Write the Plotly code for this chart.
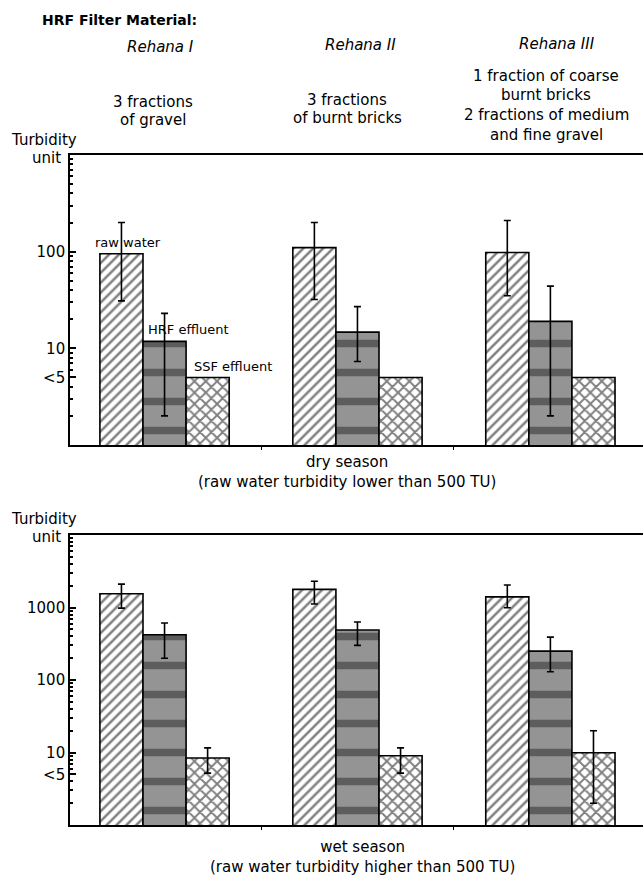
import plotly.graph_objects as go

W, H = 643, 876

# ---------------- data ----------------
filters = ["Rehana I", "Rehana II", "Rehana III"]
series = ["raw water", "HRF effluent", "SSF effluent"]

# dry season (turbidity units)
dry_raw = [95, 110, 98]
dry_raw_hi = [200, 200, 210]
dry_raw_lo = [31, 32, 35]
dry_hrf = [11.8, 14.7, 19]
dry_hrf_hi = [23, 27, 44]
dry_hrf_lo = [2, 7.3, 2]
dry_ssf = [5, 5, 5]

# wet season
wet_raw = [1550, 1780, 1400]
wet_raw_hi = [2100, 2300, 2040]
wet_raw_lo = [980, 1120, 990]
wet_hrf = [420, 490, 250]
wet_hrf_hi = [610, 630, 390]
wet_hrf_lo = [200, 300, 130]
wet_ssf = [8.4, 9.0, 9.9]
wet_ssf_hi = [11.6, 11.6, 20]
wet_ssf_lo = [5.2, 5.2, 2]

dry_ticks = [5, 10, 100]
dry_ticktext = ["<5", "10", "100"]
wet_ticks = [5, 10, 100, 1000]
wet_ticktext = ["<5", "10", "100", "1000"]

FONT = "DejaVu Sans"

styles = {
    "raw water": dict(color="white", pattern=dict(shape="/", fgcolor="black", bgcolor="white", size=7, solidity=0.36)),
    "HRF effluent": dict(color="#8e8e8e", pattern=dict(shape="-", fgcolor="#262626", bgcolor="#949494", size=29, solidity=0.26)),
    "SSF effluent": dict(color="white", pattern=dict(shape="x", fgcolor="black", bgcolor="white", size=8, solidity=0.42)),
}


def errs(vals, hi, lo):
    if hi is None:
        return None
    return dict(type="data", symmetric=False,
                array=[h - v for h, v in zip(hi, vals)],
                arrayminus=[v - l for v, l in zip(vals, lo)],
                color="black", thickness=1.6, width=3.5)


fig = go.Figure()

panels = [
    ("x", "y", [(dry_raw, dry_raw_hi, dry_raw_lo), (dry_hrf, dry_hrf_hi, dry_hrf_lo), (dry_ssf, None, None)]),
    ("x2", "y2", [(wet_raw, wet_raw_hi, wet_raw_lo), (wet_hrf, wet_hrf_hi, wet_hrf_lo), (wet_ssf, wet_ssf_hi, wet_ssf_lo)]),
]

for xa, ya, data in panels:
    for name, (vals, hi, lo) in zip(series, data):
        st = styles[name]
        fig.add_trace(go.Bar(
            x=filters, y=vals, name=name, xaxis=xa, yaxis=ya,
            marker=dict(color=st["color"], pattern=st["pattern"], line=dict(color="black", width=1.6)),
            error_y=errs(vals, hi, lo), showlegend=False,
        ))


def py(p):
    return 1 - p / H


def pxx(p):
    return p / W


x_dom = [pxx(70), 1.0]
minor_vals = [m * 10 ** k for k in range(0, 4) for m in range(2, 10)]

axis_common = dict(showline=True, linecolor="black", linewidth=1.6, showgrid=False, zeroline=False)

fig.update_layout(
    width=W, height=H, margin=dict(l=0, r=0, t=0, b=0),
    paper_bgcolor="white", plot_bgcolor="white",
    barmode="group", bargap=0.33, bargroupgap=0,
    font=dict(family=FONT, size=15, color="black"),
    xaxis=dict(domain=x_dom, anchor="y", range=[-0.49, 2.48], mirror=True,
               tickmode="array", tickvals=[0.5, 1.5], ticks="outside", ticklen=3,
               tickcolor="black", showticklabels=False, **axis_common),
    yaxis=dict(domain=[py(445), py(155)], anchor="x", type="log", range=[0, 3],
               tickmode="array", tickvals=dry_ticks, ticktext=dry_ticktext,
               ticks="inside", ticklen=6, tickcolor="black", tickwidth=1.5,
               minor=dict(ticks="inside", ticklen=3, tickcolor="black", tickvals=minor_vals[:27]),
               tickfont=dict(size=15), **axis_common),
    xaxis2=dict(domain=x_dom, anchor="y2", range=[-0.49, 2.48], mirror=True,
                tickmode="array", tickvals=[0.5, 1.5], ticks="outside", ticklen=3,
                tickcolor="black", showticklabels=False, **axis_common),
    yaxis2=dict(domain=[py(825), py(535)], anchor="x2", type="log", range=[0, 4],
                tickmode="array", tickvals=wet_ticks, ticktext=wet_ticktext,
                ticks="inside", ticklen=6, tickcolor="black", tickwidth=1.5,
                minor=dict(ticks="inside", ticklen=3, tickcolor="black", tickvals=minor_vals),
                tickfont=dict(size=15), **axis_common),
)

ann = []


def text(s, x, y, size=15, **kw):
    ann.append(dict(text=s, x=pxx(x), y=py(y), xref="paper", yref="paper",
                    showarrow=False, xanchor=kw.pop("xanchor", "center"), yanchor="middle",
                    font=dict(family=FONT, size=size, color="black"), **kw))


text("<b>HRF Filter Material:</b>", 40, 20, size=14, xanchor="left")
text("<i>Rehana I</i>", 160, 47)
text("<i>Rehana II</i>", 360, 45)
text("<i>Rehana III</i>", 557, 44)
text("3 fractions", 153, 102)
text("of gravel", 153, 120)
text("3 fractions", 347, 100)
text("of burnt bricks", 347, 118)
text("1 fraction of coarse", 546, 76)
text("burnt bricks", 546, 95)
text("2 fractions of medium", 546, 115)
text("and fine gravel", 546, 135)

text("Turbidity", 44, 140)
text("unit", 46, 158)
text("Turbidity", 44, 519)
text("unit", 46, 537)

text("dry season<br>(raw water turbidity lower than 500 TU)", 347, 472)
text("wet season<br>(raw water turbidity higher than 500 TU)", 362, 857)

# series labels in the dry-season panel, placed in data coordinates
lab = [("raw water", -0.19, 2.10), ("HRF effluent", 0.124, 1.20), ("SSF effluent", 0.357, 0.81)]
for s, xv, yv in lab:
    ann.append(dict(text=s, x=xv, y=yv, xref="x", yref="y", showarrow=False,
                    xanchor="center", yanchor="middle",
                    font=dict(family=FONT, size=13, color="black")))

fig.update_layout(annotations=ann)

fig.write_html("out.html", config={"displayModeBar": False},
               post_script="document.body.style.margin='0px';document.body.style.overflow='hidden';")
